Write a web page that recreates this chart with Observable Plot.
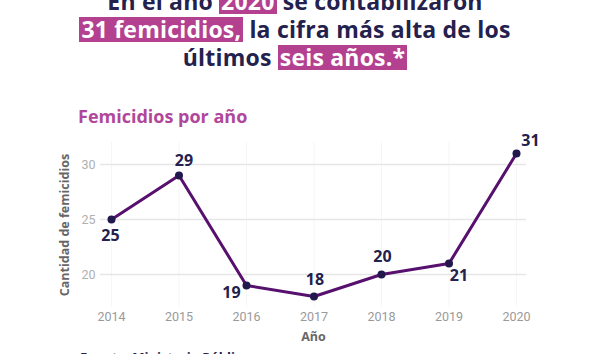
<!DOCTYPE html>
<html>
<head>
<meta charset="utf-8">
<script src="https://cdn.jsdelivr.net/npm/d3@7"></script>
<script src="https://cdn.jsdelivr.net/npm/@observablehq/plot@0.6"></script>
<style>
  html, body { margin: 0; padding: 0; background: #fff; }
  #wrap { position: relative; width: 590px; height: 354px; overflow: hidden; font-family: "Open Sans", sans-serif; }
  #title { position: absolute; left: 0; width: 590px; top: -13px; text-align: center; font-weight: 700; font-size: 23px; letter-spacing: 0.2px; line-height: 28px; color: #23214d; }
  #title .hl { display: inline-block; line-height: 25px; background: #b4418f; color: #fff; padding: 0 2px; }
  #sub { position: absolute; left: 78px; top: 104px; font-weight: 700; font-size: 18px; color: #b0479a; }
  #chart { position: absolute; left: 0; top: 130px; }
  #cap { position: absolute; left: 80px; top: 348px; font-weight: 700; font-size: 13px; color: #23214d; }
</style>
</head>
<body>
<div id="wrap">
  <div id="title">En el año <span class="hl">2020</span> se contabilizaron<br><span class="hl">31 femicidios,</span> la cifra más alta de los<br>últimos <span class="hl">seis años.*</span></div>
  <div id="sub">Femicidios por año</div>
  <div id="chart"></div>
  <div id="cap">Fuente: Ministerio Público</div>
</div>
<script>
const years = [2014, 2015, 2016, 2017, 2018, 2019, 2020];
const counts = [25, 29, 19, 18, 20, 21, 31];
const yTicks = [20, 25, 30];

const data = years.map((y, i) => ({year: y, count: counts[i]}));
// label placement per year (style only)
const place = {2014: [-1, 16], 2015: [5, -15], 2016: [-15, 7], 2017: [1, -17], 2018: [1, -18], 2019: [10, 12], 2020: [14, -13]};

const labelMarks = data.map(d => Plot.text([d], {
  x: "year", y: "count", text: d => String(d.count),
  dx: place[d.year][0], dy: place[d.year][1],
  fill: "#23214d", fontWeight: 700, fontSize: 16, fontFamily: "Open Sans, sans-serif"
}));

const chart = Plot.plot({
  width: 590,
  height: 224,
  marginLeft: 100,
  marginRight: 64,
  marginTop: 12,
  marginBottom: 47,
  style: {fontFamily: "Roboto, sans-serif", background: "transparent"},
  x: {domain: [2014, 2020], insetLeft: 11, insetRight: 10},
  y: {domain: [17, 32]},
  marks: [
    Plot.gridX(years, {stroke: "#f6f6f6", strokeOpacity: 1, strokeWidth: 1}),
    Plot.gridY(yTicks, {stroke: "#e6e6e6", strokeOpacity: 1, strokeWidth: 1.5}),
    Plot.axisX(years, {tickSize: 0, tickPadding: 5, tickFormat: d => String(d), fill: "#9a9a9a", fontSize: 12.5,
      label: "Año", labelAnchor: "center", labelOffset: 33}),
    Plot.axisY(yTicks, {tickSize: 0, tickPadding: 5, fill: "#b0b0b0", fontSize: 12.5,
      label: "Cantidad de femicidios", labelAnchor: "center", labelOffset: 40}),
    Plot.line(data, {x: "year", y: "count", stroke: "#57106e", strokeWidth: 3}),
    Plot.dot(data, {x: "year", y: "count", r: 4, fill: "#23184d", stroke: "none"}),
    ...labelMarks
  ]
});
document.getElementById("chart").appendChild(chart);
// style axis labels, drop arrows
chart.querySelectorAll("g[aria-label='x-axis label'] text, g[aria-label='y-axis label'] text").forEach(t => {
  t.textContent = t.textContent.replace(/\s*[→↑←↓]\s*/g, "").trim();
  t.setAttribute("font-weight", "700");
  t.setAttribute("fill", "#666");
  t.setAttribute("font-size", "12.5");
  t.setAttribute("font-family", "Open Sans, sans-serif");
});
</script>
</body>
</html>
